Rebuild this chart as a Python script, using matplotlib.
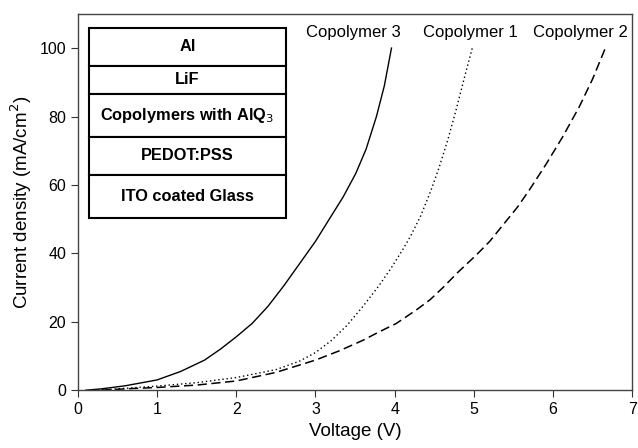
import matplotlib
matplotlib.use("Agg")
import matplotlib.pyplot as plt
from matplotlib.patches import Rectangle

plt.rcParams['font.family'] = ['Liberation Sans', 'DejaVu Sans']

# Copolymer 3 (solid)
v3 = [0.1, 0.3, 0.6, 1.0, 1.3, 1.6, 1.8, 2.0, 2.2, 2.4, 2.6, 2.8, 3.0, 3.18, 3.35, 3.51, 3.64, 3.77, 3.87, 3.96]
j3 = [0, 0.4, 1.3, 3.0, 5.5, 8.8, 12, 15.6, 19.5, 24.5, 30.5, 37, 43.5, 50.2, 56.5, 63.4, 70.5, 80, 89, 100]

# Copolymer 1 (dotted)
v1 = [0.2, 0.5, 1.0, 1.5, 2.0, 2.5, 2.8, 3.0, 3.2, 3.4, 3.6, 3.8, 3.95, 4.1, 4.2, 4.33, 4.46, 4.56, 4.67, 4.78, 4.88, 4.98]
j1 = [0, 0.4, 1.2, 2.2, 3.7, 6.0, 8.5, 11, 14.5, 19, 24.5, 30.5, 35.5, 41, 45, 51, 58.5, 65, 73.1, 82.3, 91.3, 100]

# Copolymer 2 (dashed)
v2 = [0.3, 0.6, 1.0, 1.5, 2.0, 2.5, 3.0, 3.3, 3.6, 3.8, 4.02, 4.27, 4.45, 4.61, 4.8, 5.03, 5.2,
      5.41, 5.55, 5.70, 5.91, 6.12, 6.33, 6.50, 6.66]
j2 = [0, 0.4, 0.8, 1.5, 2.7, 5.2, 8.8, 11.5, 14.6, 17, 19.5, 23.4, 26.5, 30, 34.5, 39.5, 43.5,
      49.5, 53.5, 58.5, 66, 74, 82.8, 91, 100]

names = ["Copolymer 3", "Copolymer 1", "Copolymer 2"]
name_x = [3.48, 4.96, 6.35]

layers = ["Al", "LiF", "Copolymers with AlQ$_3$", "PEDOT:PSS", "ITO coated Glass"]

fig = plt.figure(figsize=(6.38, 4.48), dpi=100)
ax = fig.add_axes([0.122, 0.129, 0.869, 0.84])

ax.plot(v3, j3, color='black', lw=1.0, ls='-')
ax.plot(v1, j1, color='black', lw=1.0, ls=(0, (1, 2)))
ax.plot(v2, j2, color='black', lw=1.1, ls=(0, (6, 3)))

for n, x in zip(names, name_x):
    ax.text(x, 104.5, n, ha='center', va='center', fontsize=12)

ax.set_xlim(0, 7)
ax.set_ylim(0, 110)
ax.set_xticks(range(0, 8))
ax.set_yticks(range(0, 101, 20))
ax.tick_params(direction='out', length=5, labelsize=11.5, color='#333333', top=False, right=False)
for s in ax.spines.values():
    s.set_color('#444444')
    s.set_linewidth(1.0)

ax.set_xlabel("Voltage (V)", fontsize=13.5)
ax.set_ylabel("Current density (mA/cm$^2$)", fontsize=13.5)

# layer stack box
edges = [0.963, 0.862, 0.787, 0.673, 0.572, 0.457]
for i, lab in enumerate(layers):
    y0 = edges[i + 1]
    h = edges[i] - edges[i + 1]
    ax.add_patch(Rectangle((0.02, y0), 0.355, h, transform=ax.transAxes,
                           facecolor='white', edgecolor='black', lw=1.5, zorder=5))
    ax.text(0.1975, y0 + h / 2, lab, transform=ax.transAxes, ha='center', va='center',
            fontsize=11.8, fontweight='bold', zorder=6)

fig.savefig("out.png", dpi=100)
